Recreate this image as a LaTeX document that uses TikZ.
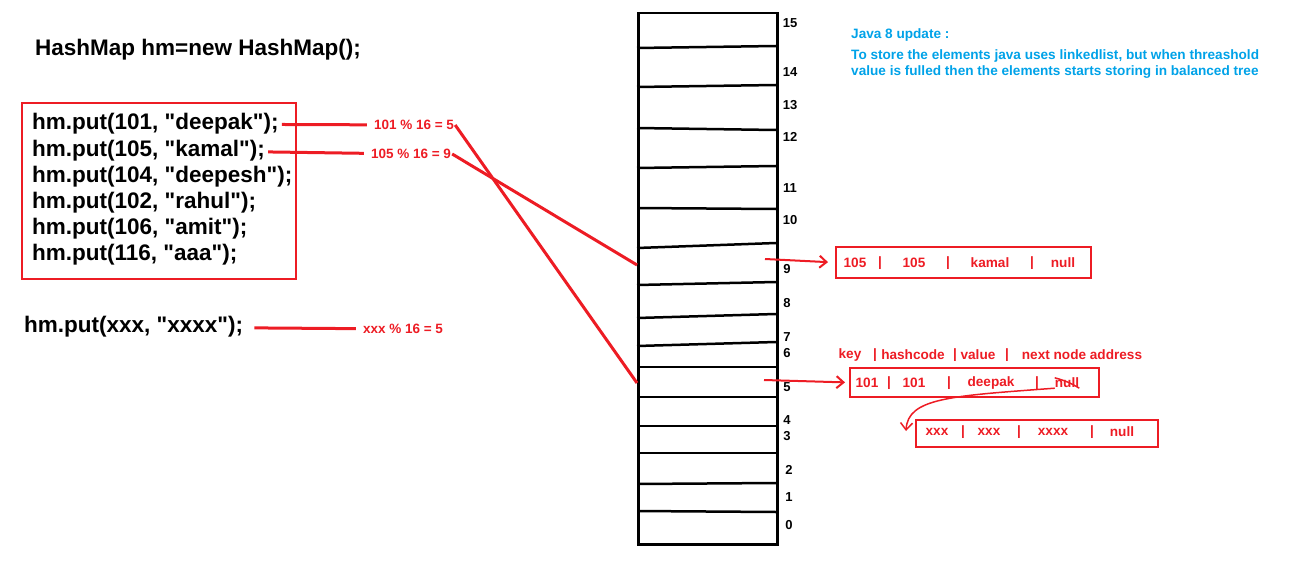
\documentclass[tikz,border=0pt]{standalone}
\usepackage{fontspec}
\setmainfont{Liberation Sans}
\usetikzlibrary{positioning,arrows.meta}
\definecolor{paintred}{RGB}{237,28,36}
\definecolor{paintblue}{RGB}{0,162,232}

\begin{document}
\begin{tikzpicture}[x=1pt,y=-1pt,
  code/.style={font=\fontsize{22.5}{26}\selectfont\bfseries,anchor=west,inner sep=0pt},
  hash/.style={font=\fontsize{13.5}{16}\selectfont\bfseries,text=paintred,inner sep=1pt},
  idx/.style={font=\fontsize{13}{15}\selectfont\bfseries,inner sep=0pt},
  entry/.style={draw=paintred,line width=2pt,inner sep=0pt},
  field/.style={font=\fontsize{13.6}{15}\selectfont\bfseries,text=paintred,inner sep=0pt},
  note/.style={font=\fontsize{13.6}{16.5}\selectfont\bfseries,text=paintblue,anchor=west,align=left,inner sep=0pt},
  redline/.style={draw=paintred,line width=3pt},
  link/.style={draw=paintred,line width=2pt,-{Straight Barb[length=7pt,width=12pt]}}]
\useasboundingbox (0,0) rectangle (1316,564);

% code on the left
\node[code] (title) at (35,50) {HashMap hm=new HashMap();};
\node[draw=paintred,line width=2pt,minimum width=274pt,minimum height=176pt] (putbox) at (159,191) {};
\foreach \k/\v [count=\i] in {101/deepak,105/kamal,104/deepesh,102/rahul,106/amit,116/aaa}
  \node[code] (put\k) at (32,{124+26.2*(\i-1)}) {hm.put(\k, \textquotedbl\v\textquotedbl);};
\node[code] (putxxx) at (24,327) {hm.put(xxx, \textquotedbl xxxx\textquotedbl);};

% hash of the keys
\node[hash] (h101) at (414,125) {101 \% 16 = 5};
\node[hash] (h105) at (411,154) {105 \% 16 = 9};
\node[hash] (hxxx) at (403,329) {xxx \% 16 = 5};

% bucket table
\node[draw,line width=2.5pt,minimum width=139pt,minimum height=531pt,anchor=north west,inner sep=0pt] (table) at (637,12) {};
\foreach \l/\r in {48/46,87/85,128/130,168/166,208/209,248/243,285/282,318/314,346/342,367/367,397/397,426/426,453/453,484/483,511/512}
  \draw[line width=2.5pt] (637,\l) -- (776,\r);
\foreach \n/\x/\y in {15/790/23,14/790/72,13/790/105,12/790/137,11/790/188,10/790/220,9/787/269,8/787/303,7/787/337,6/787/353,5/787/387,4/787/420,3/787/436,2/789/470,1/789/497,0/789/525}
  \node[idx] (idx\n) at (\x,\y) {\n};
\coordinate (slot9) at (637,265);
\coordinate (slot5) at (637,383);
\coordinate (out9) at (765,259);
\coordinate (out5) at (764,380);

\draw[redline,shorten <=3pt,shorten >=6pt] (put101) -- (h101);
\draw[redline,shorten <=3pt,shorten >=6pt] (put105) -- (h105);
\draw[redline,shorten <=11pt,shorten >=6pt] (putxxx) -- (hxxx);
\draw[redline] (h101.east) -- (slot5);
\draw[redline] (h105.east) -- (slot9);

% nodes of the buckets
\node[entry,minimum width=255pt,minimum height=31pt] (entry9) at (963.5,262.5) {};
\foreach \x/\t [count=\i] in {855/105,880/|,914/105,948/|,990/kamal,1032/|,1063/null}
  \node[field] (e9f\i) at (\x,263) {\t};
\foreach \x/\t [count=\i] in {850/key,875/|,913/hashcode,955/|,978/value,1007/|,1082/next node address}
  \node[field] (hd\i) at (\x,355) {\t};
\node[entry,minimum width=249pt,minimum height=29pt] (entry5) at (974.5,382.5) {};
\foreach \x/\t [count=\i] in {867/101,889/|,914/101,949/|,991/deepak,1037/|,1067/null}
  \node[field] (e5f\i) at (\x,383) {\t};
\node[entry,minimum width=242pt,minimum height=27pt] (entryx) at (1037,433.5) {};
\foreach \x/\t [count=\i] in {937/xxx,963/|,989/xxx,1019/|,1053/xxxx,1092/|,1122/null}
  \node[field] (exf\i) at (\x,432) {\t};
\coordinate (nextx) at (906,431);

\draw[link,shorten >=7pt] (out9) -- (entry9.west);
\draw[link,shorten >=4pt] (out5) -- (entry5.west);
\draw[paintred,line width=1.5pt] (e5f7.north west) to[bend left=8] (e5f7.south east);
\draw[link,line width=1.5pt] (e5f7.south west) .. controls (950,396) and (908,398) .. (nextx);

% java 8 note
\node[note] (java8) at (851,35) {Java 8 update :};
\node[note] (store) at (851,64) {To store the elements java uses linkedlist, but when threashold\\value is fulled then the elements starts storing in balanced tree};
\end{tikzpicture}
\end{document}
